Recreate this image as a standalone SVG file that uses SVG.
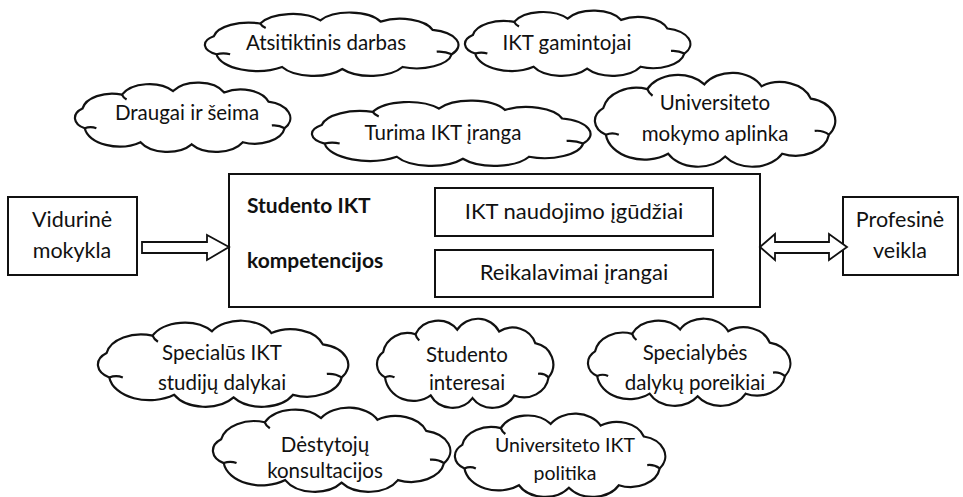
<svg xmlns="http://www.w3.org/2000/svg" xmlns:xlink="http://www.w3.org/1999/xlink" width="963" height="497" viewBox="0 0 963 497">
<style>
text{font-family:Lato,"Noto Sans",sans-serif;font-size:22px;fill:#111;}
.c{text-anchor:middle;}
.s{font-size:20.5px;}
.p{font-size:19.5px;}
.m{font-size:21.5px;}
.b{font-weight:bold;font-size:21px;}
.box{fill:#fff;stroke:#111;stroke-width:2;}
.cl{fill:#fff;stroke:#111;stroke-width:2.2;vector-effect:non-scaling-stroke;}
.cli{fill:none;stroke:#111;stroke-width:2.2;vector-effect:non-scaling-stroke;}
.ar{fill:#fff;stroke:#111;stroke-width:1.8;stroke-linejoin:miter;}
</style>
<defs>
<g id="cloud">
<path class="cl" d="M14,66 A17,17 0 0 1 12,38 A26,26 0 0 1 46,18 A26,26 0 0 1 90,13 A25,25 0 0 1 134,15 A25,25 0 0 1 172,28 A24,24 0 0 1 186,66 A26,26 0 0 1 150,86 A26,26 0 0 1 106,89 A26,26 0 0 1 62,86 A30,30 0 0 1 14,66 Z"/>
<path class="cli" d="M14,66 q5,-3 10,0 M186,66 q-5,-5 -11,-4 M46,18 q1,4 4,7"/>
</g>
</defs>
<g id="clouds">
<g id="n-atsitiktinis"><use xlink:href="#cloud" transform="translate(197.3,12) scale(1.368,0.64)"/><text class="c s" x="326" y="50">Atsitiktinis darbas</text></g>
<g id="n-gamintojai"><use xlink:href="#cloud" transform="translate(458.2,10) scale(1.216,0.66)"/><text class="c s" x="567" y="50">IKT gamintojai</text></g>
<g id="n-draugai"><use xlink:href="#cloud" transform="translate(68.5,82) scale(1.162,0.7)"/><text class="c s" x="187" y="120">Draugai ir šeima</text></g>
<g id="n-turima"><use xlink:href="#cloud" transform="translate(303.6,100) scale(1.503,0.66)"/><text class="c s" x="443" y="140">Turima IKT įranga</text></g>
<g id="n-aplinka"><use xlink:href="#cloud" transform="translate(587.7,72) scale(1.297,0.95)"/><text class="c s" x="715" y="110">Universiteto</text><text class="c s" x="715" y="141">mokymo aplinka</text></g>
<g id="n-specialus"><use xlink:href="#cloud" transform="translate(90.4,320) scale(1.351,0.87)"/><text class="c s" x="222" y="360">Specialūs IKT</text><text class="c s" x="222" y="390">studijų dalykai</text></g>
<g id="n-interesai"><use xlink:href="#cloud" transform="translate(371.7,318) scale(0.951,0.9)"/><text class="c s" x="467" y="362">Studento</text><text class="c s" x="467" y="390">interesai</text></g>
<g id="n-poreikiai"><use xlink:href="#cloud" transform="translate(581.9,318) scale(1.092,0.88)"/><text class="c s" x="695" y="360">Specialybės</text><text class="c s" x="695" y="390">dalykų poreikiai</text></g>
<g id="n-destytoju"><use xlink:href="#cloud" transform="translate(205.8,407) scale(1.281,0.85)"/><text class="c s" x="325" y="452">Dėstytojų</text><text class="c s" x="325" y="478">konsultacijos</text></g>
<g id="n-politika"><use xlink:href="#cloud" transform="translate(448.6,413) scale(1.135,0.84)"/><text class="c p" x="565" y="452">Universiteto IKT</text><text class="c p" x="565" y="480">politika</text></g>
</g>
<g id="n-vidurine"><rect class="box" x="8" y="197" width="129" height="78"/><text class="c m" x="72" y="227">Vidurinė</text><text class="c m" x="72" y="258">mokykla</text></g>
<g id="n-profesine"><rect class="box" x="843" y="197" width="115" height="78"/><text class="c m" x="900" y="227">Profesinė</text><text class="c m" x="900" y="258">veikla</text></g>
<g id="n-main"><rect class="box" x="229" y="174" width="531" height="133"/><text class="b" x="247" y="213">Studento IKT</text><text class="b" x="247" y="268">kompetencijos</text></g>
<g id="n-igudziai"><rect class="box" x="435" y="188" width="278" height="48"/><text class="c" x="574" y="219">IKT naudojimo įgūdžiai</text></g>
<g id="n-irangai"><rect class="box" x="435" y="250" width="278" height="47"/><text class="c" x="574" y="280">Reikalavimai įrangai</text></g>
<g id="connectors">
<polygon class="ar" points="142,242 207,242 207,235 229,247 207,260 207,253 142,253"/>
<polygon class="ar" points="760,247 775,234 775,242 829,242 829,234 847,247 829,260 829,253 775,253 775,260"/>
</g>
</svg>
